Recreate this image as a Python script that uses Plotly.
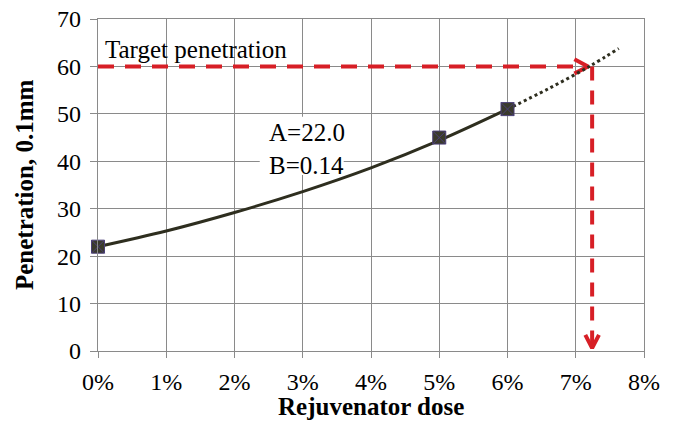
import plotly.graph_objects as go

# Measured points (rejuvenator dose %, penetration 0.1mm)
dose_pts = [0, 5, 6]
pen_pts = [22, 45, 51]

# Fitted curve (solid part, within data)
curve_x = [0, 1, 2, 3, 4, 5, 6]
curve_y = [22.0, 25.3, 29.2, 33.6, 38.6, 44.4, 51.0]

# Extrapolated (dotted) part of the fit
extra_x = [6, 6.6, 7.2, 7.63]
extra_y = [51.0, 55.3, 60.0, 63.8]

target_pen = 60
target_dose = 7.2

fit_label = "A=22.0<br>B=0.14"
x_ticks = [0, 1, 2, 3, 4, 5, 6, 7, 8]
x_tick_text = [f"{v}%" for v in x_ticks]
y_ticks = [0, 10, 20, 30, 40, 50, 60, 70]

FONT = "Times New Roman, Liberation Serif, serif"
RED = "#d71f26"
DARK = "#2e2e1f"

fig = go.Figure()

# target lines
fig.add_trace(go.Scatter(x=[0, target_dose - 0.04], y=[target_pen, target_pen], mode="lines",
                         line=dict(color=RED, width=4, dash="16px,11px"), hoverinfo="skip"))
fig.add_trace(go.Scatter(x=[target_dose + 0.04, target_dose + 0.04], y=[target_pen, 0.6], mode="lines",
                         line=dict(color=RED, width=4, dash="14px,10px"), hoverinfo="skip"))
# arrow chevrons (offsets in data units from the tips)
hx, hy = target_dose - 0.02, target_pen
fig.add_trace(go.Scatter(x=[hx - 0.2, hx, hx - 0.2], y=[hy + 1.5, hy, hy - 1.5], mode="lines",
                         line=dict(color=RED, width=4), hoverinfo="skip"))
vx, vy = target_dose + 0.04, 0.6
fig.add_trace(go.Scatter(x=[vx - 0.1, vx, vx + 0.1], y=[vy + 2.8, vy, vy + 2.8], mode="lines",
                         line=dict(color=RED, width=4), hoverinfo="skip"))

# fit curve
fig.add_trace(go.Scatter(x=curve_x, y=curve_y, mode="lines", line=dict(color=DARK, width=3, shape="spline"),
                         hoverinfo="skip"))
fig.add_trace(go.Scatter(x=extra_x, y=extra_y, mode="lines",
                         line=dict(color=DARK, width=3, dash="dot", shape="spline"), hoverinfo="skip"))
# markers
fig.add_trace(go.Scatter(x=dose_pts, y=pen_pts, mode="markers", cliponaxis=False,
                         marker=dict(symbol="square-x", size=13, color="#3a3a2c",
                                     line=dict(color="#4b3f78", width=1)), hoverinfo="skip"))

# white label box below the traces, above the grid
fig.add_shape(type="rect", x0=2.37, x1=3.6, y0=37.1, y1=49.4, xref="x", yref="y",
              fillcolor="white", line=dict(width=0), layer="between")

fig.add_annotation(x=0.08, y=63.5, text="Target penetration", showarrow=False, xanchor="left",
                   yanchor="middle", font=dict(family=FONT, size=25, color="black"))
fig.add_annotation(x=2.47, y=42.6, text=fit_label, showarrow=False, xanchor="left", yanchor="middle",
                   align="left", font=dict(family=FONT, size=25, color="black"))

# axis titles
fig.add_annotation(x=0.5, y=-56 / 332, xref="paper", yref="paper", text="<b>Rejuvenator dose</b>",
                   showarrow=False, xanchor="center", yanchor="middle",
                   font=dict(family=FONT, size=25, color="black"))
fig.add_annotation(x=-74 / 546, y=0.5, xref="paper", yref="paper", text="<b>Penetration, 0.1mm</b>",
                   showarrow=False, xanchor="center", yanchor="middle", textangle=-90,
                   font=dict(family=FONT, size=25, color="black"))

grid = "#8a8a8a"
fig.update_layout(
    width=676, height=421,
    margin=dict(l=98, r=32, t=19, b=70),
    paper_bgcolor="white", plot_bgcolor="white",
    showlegend=False,
    font=dict(family=FONT, size=24, color="black"),
    xaxis=dict(range=[0, 8], tickvals=x_ticks, ticktext=x_tick_text, showgrid=True, gridcolor=grid,
               gridwidth=1.3, showline=True, linecolor=grid, linewidth=1.3, mirror=True,
               ticks="outside", ticklen=6, tickcolor=grid, zeroline=False, automargin=False,
               ticklabelstandoff=3, ticklabeloverflow="allow", tickfont=dict(family=FONT, size=24)),
    yaxis=dict(range=[0, 70], tickvals=y_ticks, showgrid=True, gridcolor=grid, gridwidth=1.3,
               showline=True, linecolor=grid, linewidth=1.3, mirror=True,
               ticks="outside", ticklen=7, tickcolor=grid, zeroline=False, automargin=False,
               ticklabelstandoff=4, ticklabeloverflow="allow", tickfont=dict(family=FONT, size=24)),
)

fig.write_html("out.html", config={"displayModeBar": False},
               post_script="document.body.style.margin='0';")
